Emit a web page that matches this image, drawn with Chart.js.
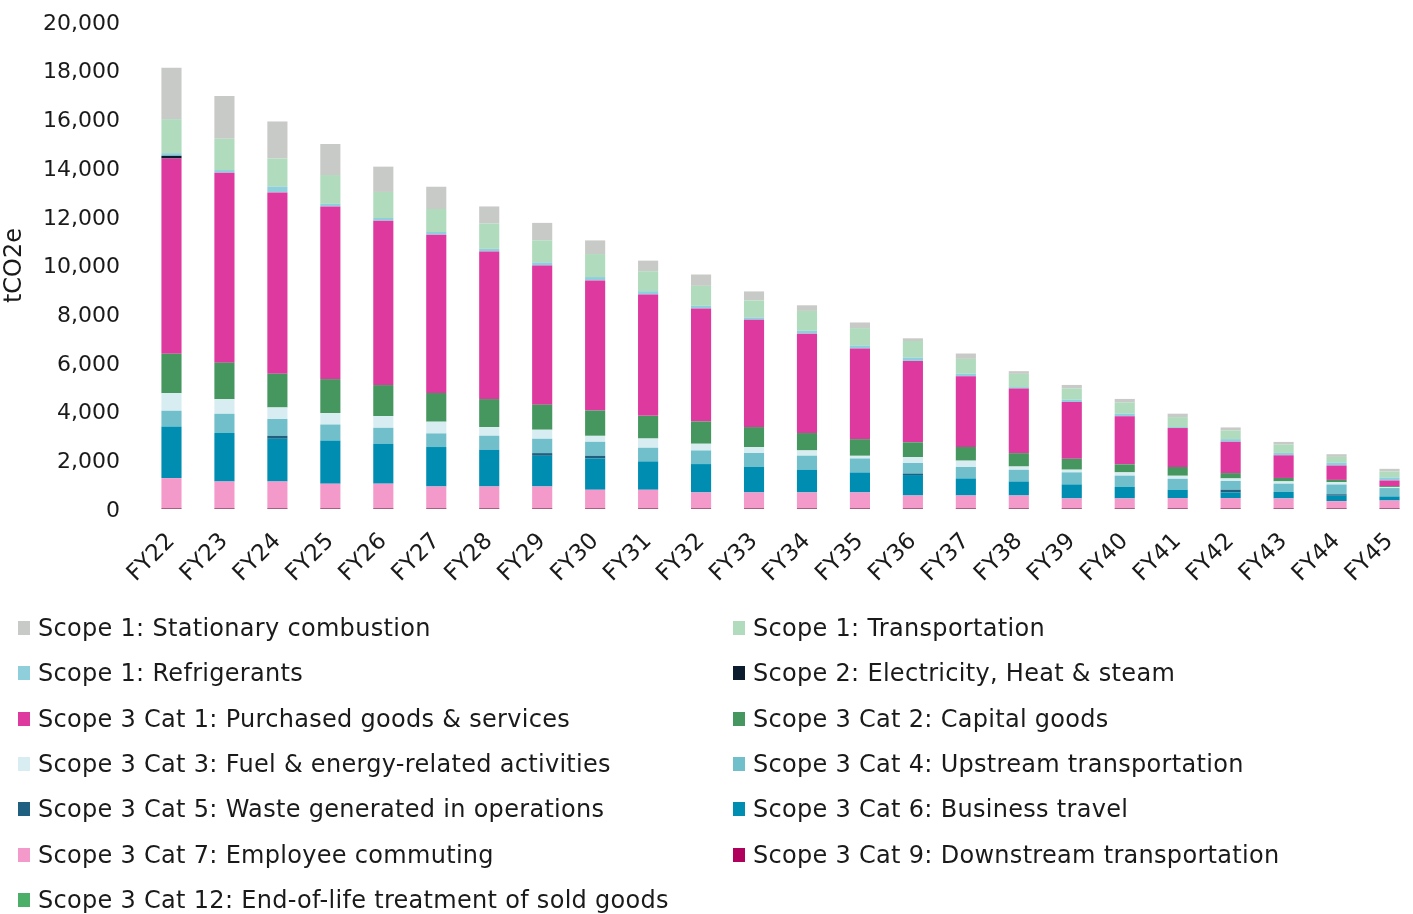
<!DOCTYPE html>
<html>
<head>
<meta charset="utf-8">
<script src="https://cdn.jsdelivr.net/npm/chart.js@4.4.1/dist/chart.umd.min.js"></script>
<style>
  body { margin: 0; background: #fff; overflow: hidden; font-family: "DejaVu Sans", sans-serif; }
  #wrap { position: relative; width: 1416px; height: 600px; }
  #legend { position: absolute; left: 0; top: 0; width: 1413px; height: 914px; pointer-events: none; }
  .item { position: absolute; display: flex; align-items: center; font-size: 24px; letter-spacing: 0.3px; color: #1a1a1a; white-space: nowrap; }
  .box { width: 12px; height: 14px; margin-right: 8px; }
</style>
</head>
<body>
<div id="wrap"><canvas id="myChart"></canvas></div>
<div id="legend"></div>
<script>
const years = ['FY22','FY23','FY24','FY25','FY26','FY27','FY28','FY29','FY30','FY31','FY32','FY33',
               'FY34','FY35','FY36','FY37','FY38','FY39','FY40','FY41','FY42','FY43','FY44','FY45'];
const yTicks = [0, 2000, 4000, 6000, 8000, 10000, 12000, 14000, 16000, 18000, 20000];

// tCO2e per year
const stationary = [2110,1755,1520,1275,1040,915,700,715,560,435,465,370,230,230,110,220,110,140,140,140,125,110,110,110];
const transport  = [1395,1285,1150,1180,1070,945,1040,905,945,820,820,700,810,715,680,605,545,465,465,410,355,340,230,245];
const refrig     = [110,110,245,110,110,110,110,135,140,140,110,95,125,125,140,110,60,95,110,40,110,100,125,125];
const scope2     = [110,0,0,0,0,0,0,0,0,0,0,0,0,0,0,0,0,0,0,0,0,0,0,0];
const cat1       = [8020,7800,7445,7090,6750,6500,6060,5710,5340,4980,4640,4405,4080,3720,3340,2900,2650,2330,1970,1600,1285,930,590,230];
const cat2       = [1615,1500,1385,1395,1275,1180,1150,1030,1040,930,915,820,715,685,605,565,550,450,330,360,220,140,95,40];
const cat3       = [725,600,475,470,480,480,355,370,245,380,275,245,215,110,245,260,135,110,135,125,105,95,95,40];
const cat4       = [645,790,690,655,655,560,575,590,575,560,560,575,575,575,435,470,480,495,465,450,360,340,400,345];
const cat5       = [0,0,120,0,0,0,0,110,110,0,0,0,0,0,60,0,0,0,0,0,110,0,60,0];
const cat6       = [2120,1990,1755,1775,1640,1620,1510,1260,1285,1165,1165,1045,935,820,840,700,575,575,470,340,230,265,220,165];
const cat7       = [1230,1090,1090,1000,1000,885,885,885,750,750,640,640,640,640,515,515,515,395,395,410,410,395,285,310];
const cat9       = [30,30,30,30,30,30,30,30,30,30,30,30,30,30,30,30,30,30,30,30,30,30,30,30];
const cat12      = [10,10,10,10,10,10,10,10,10,10,10,10,10,10,10,10,10,10,10,10,10,10,10,10];

// bottom of the stack first
const series = [
  { label: 'Scope 3 Cat 12: End-of-life treatment of sold goods', data: cat12, color: '#4caf67' },
  { label: 'Scope 3 Cat 9: Downstream transportation', data: cat9, color: '#b0005e' },
  { label: 'Scope 3 Cat 7: Employee commuting', data: cat7, color: '#f49aca' },
  { label: 'Scope 3 Cat 6: Business travel', data: cat6, color: '#008db2' },
  { label: 'Scope 3 Cat 5: Waste generated in operations', data: cat5, color: '#1f5f7f' },
  { label: 'Scope 3 Cat 4: Upstream transportation', data: cat4, color: '#71bfcb' },
  { label: 'Scope 3 Cat 3: Fuel & energy-related activities', data: cat3, color: '#d8edf1' },
  { label: 'Scope 3 Cat 2: Capital goods', data: cat2, color: '#46975f' },
  { label: 'Scope 3 Cat 1: Purchased goods & services', data: cat1, color: '#dd399f' },
  { label: 'Scope 2: Electricity, Heat & steam', data: scope2, color: '#0c1c2f' },
  { label: 'Scope 1: Refrigerants', data: refrig, color: '#8ecfdb' },
  { label: 'Scope 1: Transportation', data: transport, color: '#b0dbbd' },
  { label: 'Scope 1: Stationary combustion', data: stationary, color: '#c8cac7' }
];

const ctx = document.getElementById('myChart');
let myChart = new Chart(ctx, {
  type: 'bar',
  data: {
    labels: years,
    datasets: series.map(s => ({
      label: s.label,
      data: s.data,
      backgroundColor: s.color,
      borderWidth: 0,
      barPercentage: 0.38,
      categoryPercentage: 1
    }))
  },
  options: {
    responsive: true,
    maintainAspectRatio: false,
    animation: false,
    layout: { padding: { top: 22, left: 0, right: 0, bottom: 0 } },
    plugins: { legend: { display: false }, tooltip: { enabled: false } },
    scales: {
      x: {
        stacked: true,
        grid: { display: false, drawTicks: false },
        border: { display: false },
        ticks: { maxRotation: 45, minRotation: 45, padding: 19, color: '#1a1a1a',
                 font: { family: 'DejaVu Sans', size: 23 } },
        afterFit: (scale) => { scale.height = 91; scale.paddingLeft = 0; scale.paddingRight = 0; }
      },
      y: {
        stacked: true,
        min: 0,
        max: 20000,
        grid: { display: false, drawTicks: false },
        border: { display: false },
        afterBuildTicks: (scale) => { scale.ticks = yTicks.map(v => ({ value: v })); },
        ticks: { padding: 25, labelOffset: 2, color: '#1a1a1a', font: { family: 'DejaVu Sans', size: 22 },
                 callback: (v) => v.toLocaleString('en-US') },
        title: { display: true, text: 'tCO2e', color: '#1a1a1a', padding: 0,
                 font: { family: 'DejaVu Sans', size: 24 } },
        afterFit: (scale) => { scale.width = 145; scale.paddingTop = 0; scale.paddingBottom = 0; }
      }
    }
  }
});

// two column legend under the chart, top-left item is the top of the stack
const legendEl = document.getElementById('legend');
series.slice().reverse().forEach((s, i) => {
  const item = document.createElement('div');
  item.className = 'item';
  item.style.left = (i % 2 === 0 ? 18 : 733) + 'px';
  item.style.top = (614 + Math.floor(i / 2) * 45.3) + 'px';
  item.innerHTML = '<span class="box" style="background:' + s.color + '"></span>';
  item.appendChild(document.createTextNode(s.label));
  legendEl.appendChild(item);
});
</script>
</body>
</html>
